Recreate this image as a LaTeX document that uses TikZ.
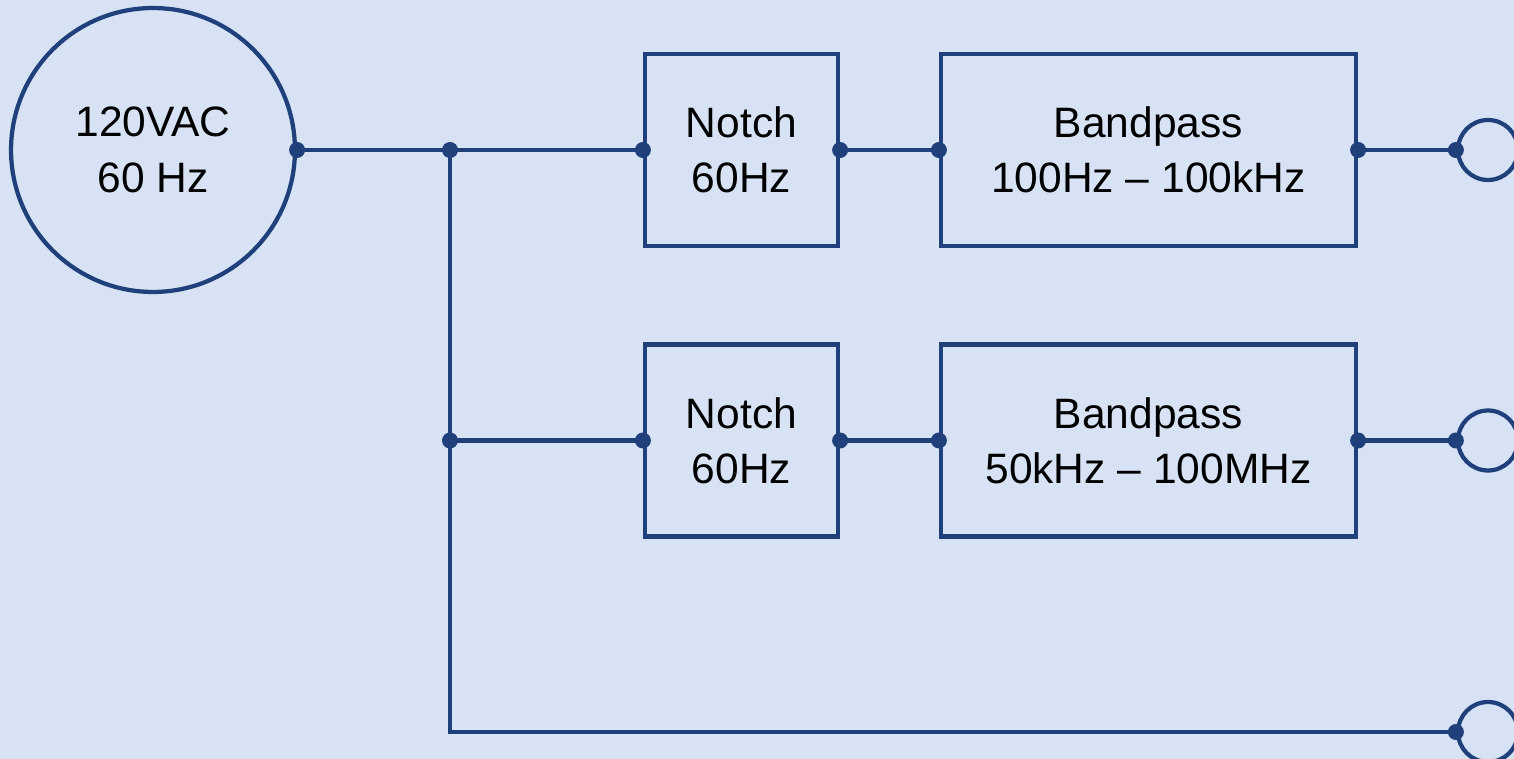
\documentclass[tikz,border=0pt]{standalone}
\usepackage{fontspec}
\setmainfont{Liberation Sans}
\usetikzlibrary{positioning}
\definecolor{wireblue}{RGB}{32,64,124}
\definecolor{bgblue}{RGB}{215,227,244}

\begin{document}
\begin{tikzpicture}[x=0.02cm,y=-0.02cm,
  wire/.style={draw=wireblue,line width=0.085cm},
  labeltext/.style={align=center,font=\fontsize{24.2}{31.5}\selectfont},
  filterbox/.style={wire,labeltext,rectangle,minimum height=3.84cm,inner sep=0pt},
  source/.style={wire,labeltext,circle,minimum size=5.68cm,inner sep=0pt},
  terminal/.style={wire,circle,minimum size=1.2cm,inner sep=0pt}]
% background and page size
\path[use as bounding box,fill=bgblue] (0,0) rectangle (1514,759);
\clip (0,0) rectangle (1514,759);
% source and filters
\node[source] (src) at (153,150) {120VAC\\60 Hz};
\node[filterbox,minimum width=3.86cm] (notchA) at (741.5,150) {Notch\\60Hz};
\node[filterbox,minimum width=8.3cm] (bandA) at (1148.5,150) {Bandpass\\100Hz -- 100kHz};
\node[filterbox,minimum width=3.86cm] (notchB) at (741.5,440.5) {Notch\\60Hz};
\node[filterbox,minimum width=8.3cm] (bandB) at (1148.5,440.5) {Bandpass\\50kHz -- 100MHz};
% outputs
\node[terminal] (outA) at (1488,150) {};
\node[terminal] (outB) at (1488,440.5) {};
\node[terminal] (outC) at (1488,732) {};
\coordinate (jA) at (450,150);
\coordinate (jB) at (450,440.5);
\coordinate (jC) at (450,732);
% wires
\draw[wire] (src.east) -- (jA) -- (notchA.west);
\draw[wire] (jA) -- (jC) -- (outC.west);
\draw[wire] (jB) -- (notchB.west);
\draw[wire] (notchA.east) -- (bandA.west);
\draw[wire] (notchB.east) -- (bandB.west);
\draw[wire] (bandA.east) -- (outA.west);
\draw[wire] (bandB.east) -- (outB.west);
% pins
\foreach \p in {src.east,jA,jB,notchA.west,notchA.east,bandA.west,bandA.east,
  notchB.west,notchB.east,bandB.west,bandB.east,outA.west,outB.west,outC.west}
  \fill[wireblue] (\p) circle[radius=0.16cm];
\end{tikzpicture}
\end{document}
